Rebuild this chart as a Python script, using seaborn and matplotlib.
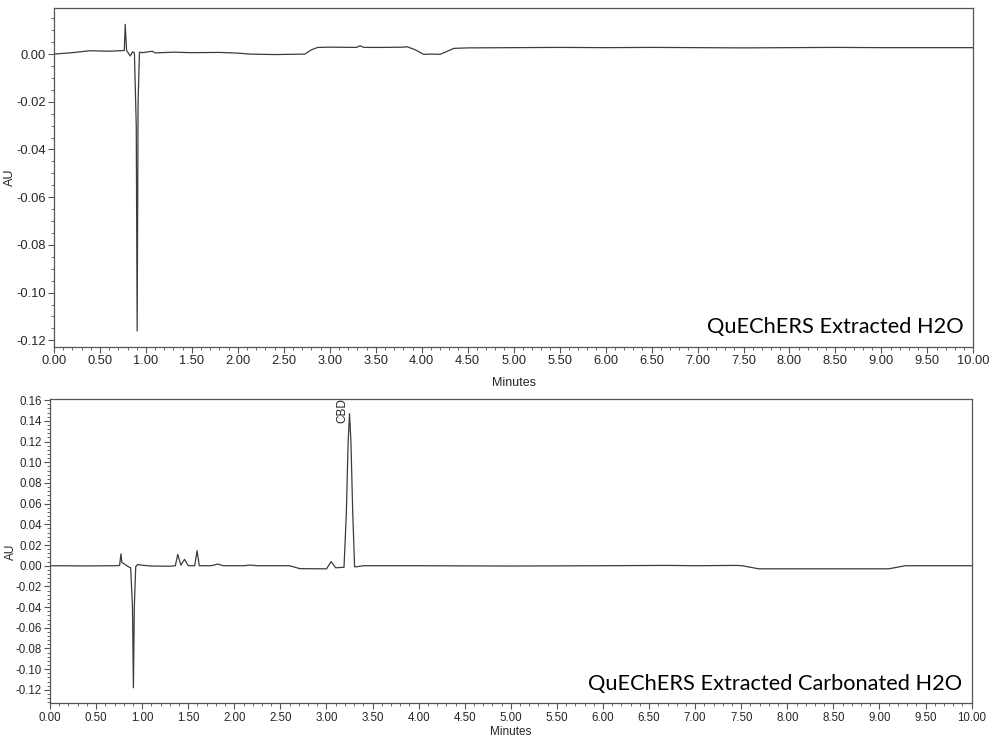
import numpy as np
import pandas as pd
import matplotlib
matplotlib.use("Agg")
import matplotlib.pyplot as plt
import seaborn as sns
from matplotlib.ticker import MultipleLocator, AutoMinorLocator, FormatStrFormatter

# trace 1: QuEChERS extracted water (minutes, AU)
top_t = [0.00, 0.20, 0.39, 0.60, 0.765, 0.775, 0.79, 0.83, 0.856, 0.875, 0.895, 0.905, 0.915,
         0.93, 0.96, 1.00, 1.07, 1.10, 1.30, 1.50, 1.80, 2.00, 2.13, 2.40, 2.73, 2.80, 2.87,
         3.00, 3.29, 3.33, 3.37, 3.60, 3.80, 3.84, 3.93, 4.02, 4.10, 4.20, 4.28, 4.35, 4.50,
         5.00, 5.50, 6.00, 6.50, 7.00, 7.50, 8.00, 8.50, 9.00, 9.50, 10.00]
top_au = [0.0000, 0.0006, 0.0014, 0.0012, 0.0015, 0.0125, 0.0015, -0.0008, 0.0010, 0.0005,
          -0.0300, -0.1161, -0.0200, 0.0008, 0.0006, 0.0008, 0.0012, 0.0005, 0.0008, 0.0006,
          0.0007, 0.0004, 0.0000, -0.0002, 0.0000, 0.0018, 0.0028, 0.0029, 0.0028, 0.0035,
          0.0028, 0.0028, 0.0029, 0.0031, 0.0018, -0.0001, 0.0000, -0.0001, 0.0012, 0.0024,
          0.0026, 0.0027, 0.0028, 0.0027, 0.0028, 0.0027, 0.0026, 0.0027, 0.0028, 0.0027,
          0.0027, 0.0027]

# trace 2: QuEChERS extracted carbonated water
bot_t = [0.00, 0.40, 0.70, 0.755, 0.77, 0.78, 0.81, 0.85, 0.875, 0.895, 0.905, 0.915, 0.93,
         0.95, 1.00, 1.10, 1.30, 1.36, 1.386, 1.42, 1.459, 1.50, 1.57, 1.596, 1.62, 1.75,
         1.82, 1.88, 2.10, 2.17, 2.25, 2.60, 2.71, 3.00, 3.05, 3.10, 3.19, 3.215, 3.235,
         3.25, 3.265, 3.285, 3.305, 3.33, 3.40, 4.00, 5.00, 6.00, 6.70, 7.00, 7.45, 7.51,
         7.69, 8.50, 9.10, 9.28, 9.60, 10.00]
bot_au = [0.0000, -0.0002, 0.0000, 0.0002, 0.0115, 0.0030, 0.0016, -0.0010, -0.0020,
          -0.0400, -0.1180, -0.0400, -0.0010, 0.0012, 0.0005, -0.0003, -0.0005, 0.0000,
          0.0110, 0.0005, 0.0062, 0.0000, 0.0000, 0.0145, 0.0000, 0.0000, 0.0016, 0.0000,
          0.0000, 0.0006, 0.0000, 0.0000, -0.0028, -0.0030, 0.0040, -0.0020, -0.0015,
          0.0500, 0.1200, 0.1470, 0.1200, 0.0500, -0.0010, -0.0010, 0.0000, 0.0000,
          -0.0003, 0.0000, 0.0003, 0.0000, 0.0003, 0.0000, -0.0030, -0.0030, -0.0030,
          0.0000, 0.0000, 0.0000]

labels = ["QuEChERS Extracted H2O", "QuEChERS Extracted Carbonated H2O"]

sns.set_theme(style="ticks")
plt.rcParams["font.family"] = ["Liberation Sans", "DejaVu Sans"]
plt.rcParams["axes.unicode_minus"] = False

fig = plt.figure(figsize=(9.92, 7.47), dpi=100)
ax1 = fig.add_axes([0.0544, 0.5355, 0.9268, 0.4534])
ax2 = fig.add_axes([0.0504, 0.0585, 0.9291, 0.4067])

line_col = "#3c3c3c"
sns.lineplot(x=top_t, y=top_au, ax=ax1, color=line_col, linewidth=0.9, sort=False)
sns.lineplot(x=bot_t, y=bot_au, ax=ax2, color=line_col, linewidth=0.9, sort=False)

ax1.set_ylim(-0.1228, 0.0192)
ax2.set_ylim(-0.133, 0.1607)

setup = [(ax1, 9.3, 9, 7, -0.041, labels[0]), (ax2, 8.3, 8.5, 2, -0.036, labels[1])]
for ax, tick_fs, lab_fs, pad, ylab_x, lab in setup:
    ax.set_xlim(0, 10)
    ax.xaxis.set_major_locator(MultipleLocator(0.5))
    ax.xaxis.set_minor_locator(AutoMinorLocator(5))
    ax.yaxis.set_major_locator(MultipleLocator(0.02))
    ax.xaxis.set_major_formatter(FormatStrFormatter("%.2f"))
    ax.yaxis.set_major_formatter(FormatStrFormatter("%.2f"))
    ax.tick_params(which="major", length=4, width=0.8, color="#555555",
                   labelsize=tick_fs, pad=2, direction="out")
    ax.tick_params(which="minor", length=2, width=0.6, color="#555555", direction="out")
    for s in ax.spines.values():
        s.set_color("#555555")
        s.set_linewidth(0.9)
    ax.set_xlabel("Minutes", fontsize=lab_fs, labelpad=pad)
    ax.set_ylabel("AU", fontsize=lab_fs)
    ax.yaxis.set_label_coords(ylab_x, 0.5)
    ax.text(0.9895, 0.03, lab, transform=ax.transAxes, ha="right", va="bottom",
            fontsize=15.7, family=["Lato", "DejaVu Sans"], color="black")

ax1.yaxis.set_minor_locator(AutoMinorLocator(4))
ax2.yaxis.set_minor_locator(AutoMinorLocator(5))

# peak label
ax2.text(3.176, 0.138, "CBD", rotation=90, ha="center", va="bottom", fontsize=8.5)

fig.savefig("out.png", dpi=100)
